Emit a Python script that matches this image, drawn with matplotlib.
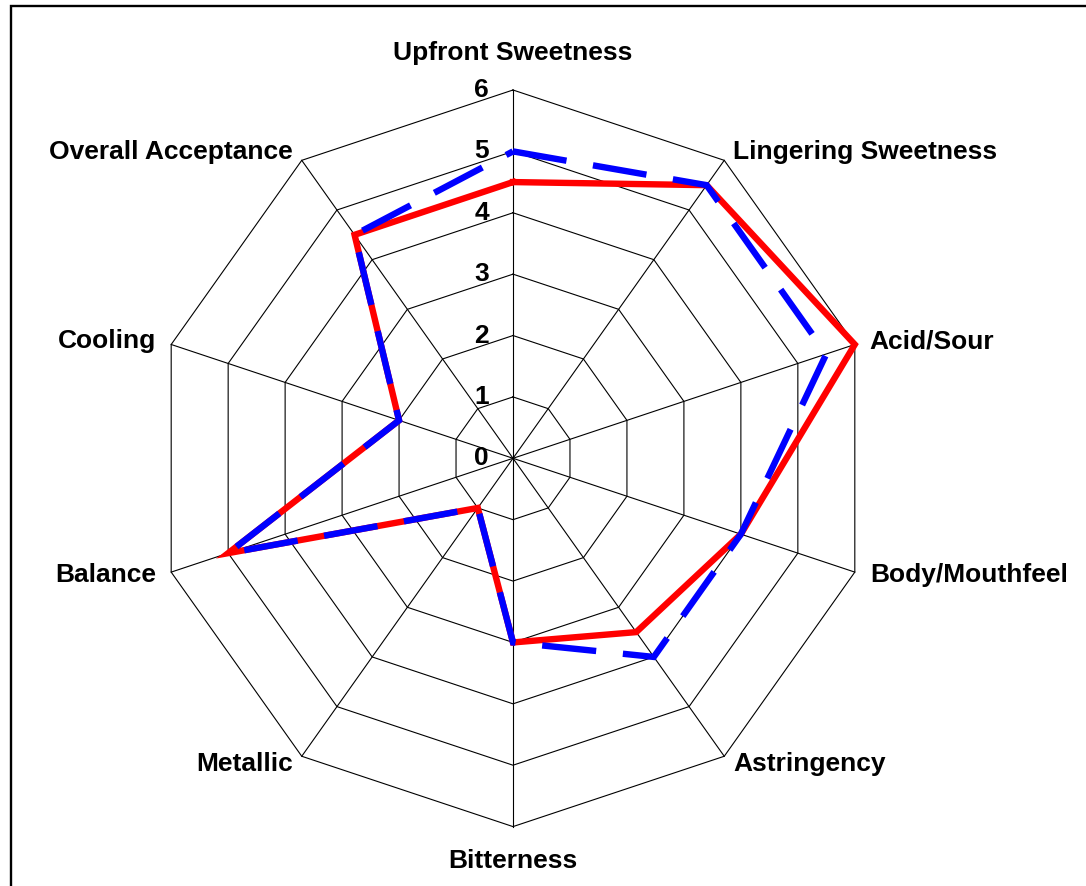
import numpy as np
import matplotlib
matplotlib.use("Agg")
import matplotlib.pyplot as plt
from matplotlib.patches import Rectangle

# ---- data ----
categories = ["Upfront Sweetness", "Lingering Sweetness", "Acid/Sour", "Body/Mouthfeel",
              "Astringency", "Bitterness", "Metallic", "Balance", "Cooling",
              "Overall Acceptance"]
series_red = [4.5, 5.5, 6.0, 4.0, 3.5, 3.0, 1.0, 5.0, 2.0, 4.5]
series_blue = [5.0, 5.5, 5.5, 4.0, 4.0, 3.0, 1.0, 5.0, 2.0, 4.5]
ring_values = [0, 1, 2, 3, 4, 5, 6]
tick_labels = ["0", "1", "2", "3", "4", "5", "6"]

plt.rcParams['font.family'] = ['Liberation Sans', 'DejaVu Sans']
FS = 19

W, H = 1086, 886
fig = plt.figure(figsize=(W / 100, H / 100), dpi=100)
fig.patch.set_facecolor('white')

cx, cy = 513.0, 458.3
rx, ry = 359.4, 368.3
ax = fig.add_axes([(cx - rx) / W, (H - cy - ry) / H, 2 * rx / W, 2 * ry / H],
                  projection='polar')
ax.set_theta_zero_location('N')
ax.set_theta_direction(-1)
ax.set_aspect('auto')
rmax = ring_values[-1]
ax.set_ylim(0, rmax)
ax.grid(False)
ax.spines['polar'].set_visible(False)
ax.set_xticks([])
ax.set_yticks([])
ax.patch.set_alpha(0)

n = len(categories)
theta = np.arange(n) * 2 * np.pi / n
theta_closed = np.append(theta, theta[0])

# polygon grid
for r in ring_values[1:]:
    ax.plot(theta_closed, [r] * (n + 1), color='black', lw=0.8, clip_on=False, zorder=1)
for t in theta:
    ax.plot([t, t], [0, rmax], color='black', lw=0.8, clip_on=False, zorder=1)

# series
red_closed = series_red + series_red[:1]
blue_closed = series_blue + series_blue[:1]
ax.plot(theta_closed, red_closed, color='#FF0000', lw=4.6, solid_joinstyle='miter',
        clip_on=False, zorder=3)
ax.plot(theta_closed, blue_closed, color='#0000FF', lw=4.6, linestyle=(0, (8.5, 4.2)),
        dash_joinstyle='miter', dash_capstyle='butt', clip_on=False, zorder=4)

# radial tick labels
for r, lab in zip(ring_values, tick_labels):
    ax.annotate(lab, xy=(0, r), xytext=(-24 * 0.72, 0), textcoords='offset points',
                ha='right', va='center', fontsize=FS, fontweight='bold',
                annotation_clip=False, zorder=5)

# category labels
for t, lab in zip(theta, categories):
    s, c = np.sin(t), np.cos(t)
    if abs(s) < 0.01:
        ha = 'center'
        dx = 0
        dy = 37 if c > 0 else -34
    else:
        ha = 'left' if s > 0 else 'right'
        dx = (9 if abs(s) < 0.8 else 15) * np.sign(s)
        dy = 10 * c
    ax.annotate(lab, xy=(t, rmax), xytext=(dx * 0.72, dy * 0.72), textcoords='offset points',
                ha=ha, va='center', fontsize=FS, fontweight='bold',
                annotation_clip=False)

# outer frame
fig.patches.append(Rectangle((10.5 / W, -0.1), 1.2, (1 - 5.8 / H) + 0.1,
                             transform=fig.transFigure, fill=False, lw=1.7,
                             ec='black', zorder=0))

fig.savefig('out.png', dpi=100, facecolor='white')
